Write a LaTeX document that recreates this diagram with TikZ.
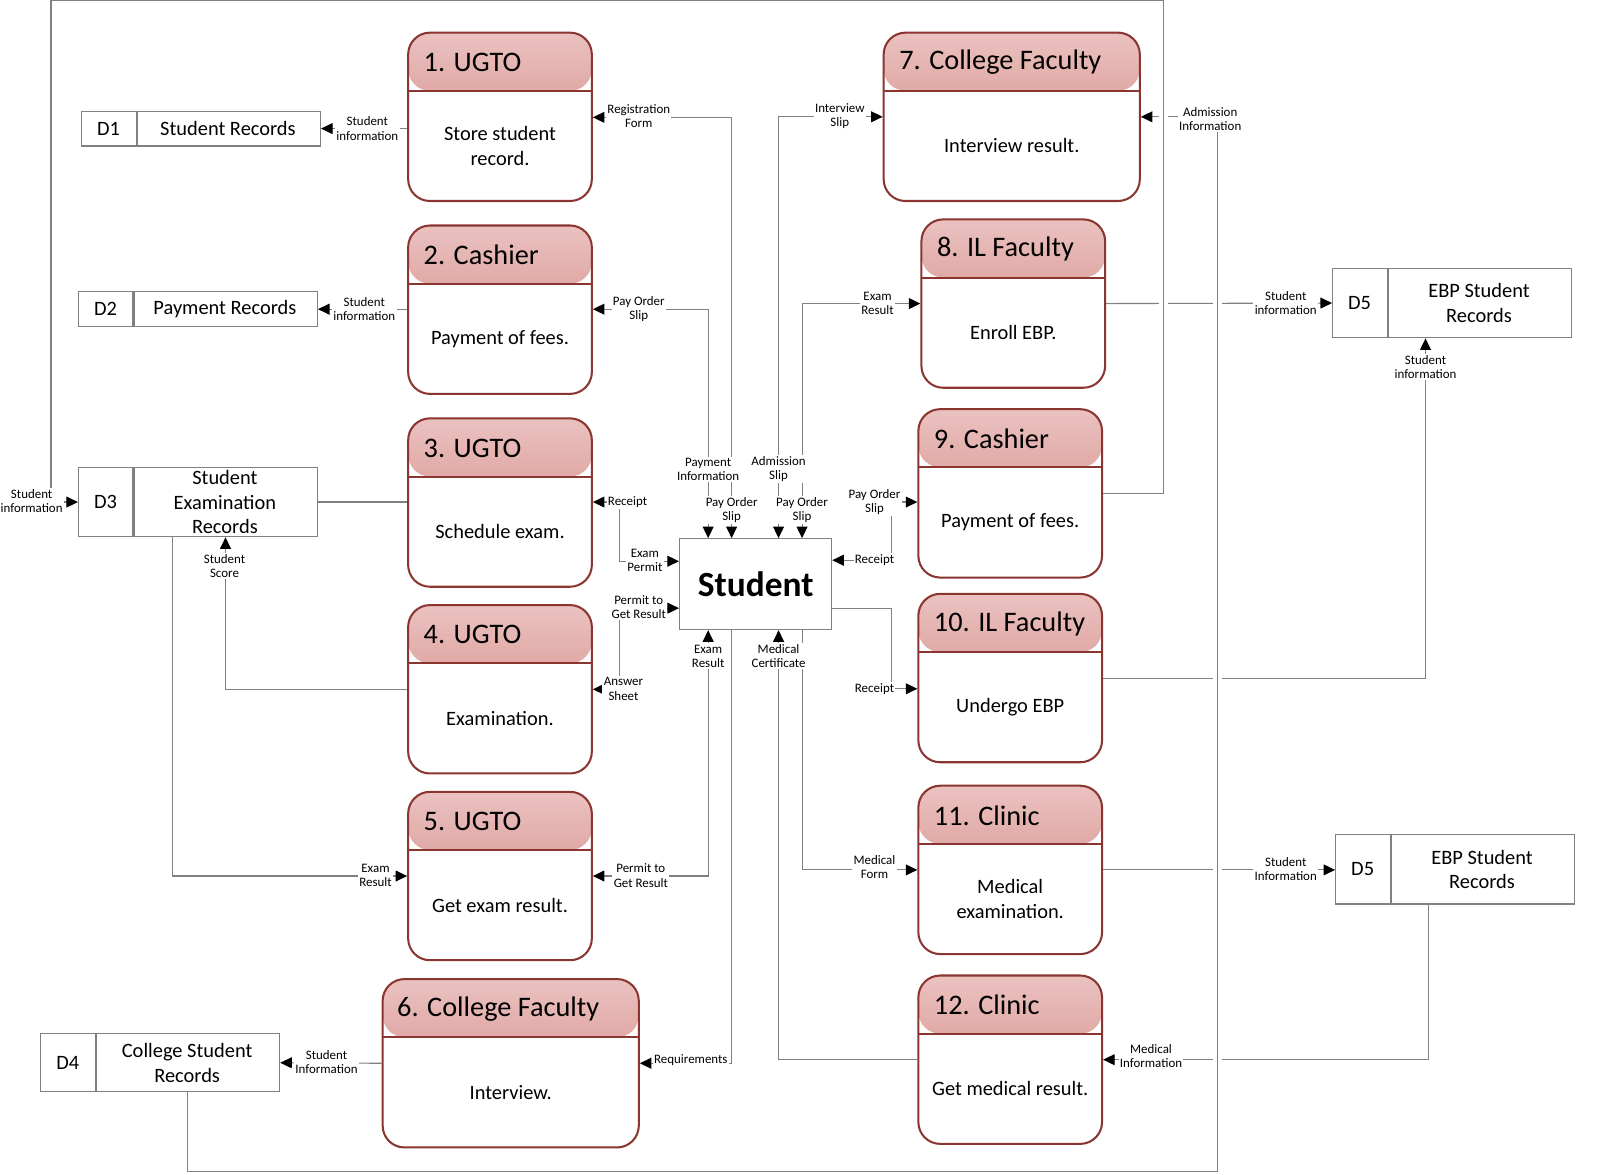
\documentclass[tikz,border=0pt]{standalone}
\usepackage{fontspec}
\setmainfont{Carlito}
\usetikzlibrary{arrows.meta,calc}
\definecolor{hdtop}{HTML}{EAC2C0}
\definecolor{hdbot}{HTML}{CF7B75}
\definecolor{pborder}{HTML}{8A3530}
\definecolor{lgray}{HTML}{808080}
\begin{document}
\begin{tikzpicture}[x=0.75pt,y=-0.75pt,
  >={Triangle[length=8.5pt,width=8pt,color=black]},
  proc/.style={draw=pborder, line width=1.5pt, rounded corners=16pt,
    minimum width=135pt, minimum height=123.75pt, inner sep=0pt, fill=white,
    path picture={
      \shade[top color=hdtop,bottom color=hdbot]
        (path picture bounding box.north west) rectangle
        ([yshift=-42.75pt]path picture bounding box.north east);
      \draw[pborder,line width=1.5pt]
        ([yshift=-42.75pt]path picture bounding box.north west) --
        ([yshift=-42.75pt]path picture bounding box.north east);}},
  wide/.style={minimum width=188.25pt},
  hdr/.style={anchor=west, inner sep=0pt, font=\fontsize{20.8}{24}\selectfont},
  body/.style={align=center, inner sep=0pt, font=\fontsize{15}{18}\selectfont},
  store/.style={draw=lgray, line width=0.9pt, minimum width=175.5pt,
    minimum height=25.5pt, inner sep=0pt, fill=white,
    path picture={
      \draw[lgray,line width=1.8pt]
        ([xshift=40.5pt]path picture bounding box.north west) --
        ([xshift=40.5pt]path picture bounding box.south west);}},
  stxt/.style={align=center, inner sep=0pt, font=\fontsize{15}{18}\selectfont},
  conn/.style={draw=lgray, line width=0.8pt},
  lab/.style={fill=white, inner sep=1pt, align=center,
    font=\fontsize{9.5}{10.5}\selectfont},
  hop/.style={conn, preaction={draw=white, line width=7pt}}
]
\useasboundingbox (0,0) rectangle (1568,1151);
\fill[white] (0,0) rectangle (1568,1151);

% ---------- process boxes ----------
\node[proc] (p1) at (490,114.5) {};
\node[proc] (p2) at (490,303.5) {};
\node[proc] (p3) at (490,492.5) {};
\node[proc] (p4) at (490,675.5) {};
\node[proc] (p5) at (490,858.5) {};
\node[proc,wide] (p6) at (500.5,1042) {};
\node[proc,wide] (p7) at (991.5,114.5) {};
\node[proc] (p8) at (993,297.5) {};
\node[proc] (p9) at (990,483.5) {};
\node[proc] (p10) at (990,664.5) {};
\node[proc] (p11) at (990,852.5) {};
\node[proc] (p12) at (990,1038.5) {};

\node[hdr] (h1) at ($(p1.north west)+(16,30)$) {1. UGTO};
\node[hdr] (h2) at ($(p2.north west)+(16,30)$) {2. Cashier};
\node[hdr] (h3) at ($(p3.north west)+(16,30)$) {3. UGTO};
\node[hdr] (h4) at ($(p4.north west)+(16,30)$) {4. UGTO};
\node[hdr] (h5) at ($(p5.north west)+(16,30)$) {5. UGTO};
\node[hdr] (h6) at ($(p6.north west)+(15,30)$) {6. College Faculty};
\node[hdr] (h7) at ($(p7.north west)+(16,30)$) {7. College Faculty};
\node[hdr] (h8) at ($(p8.north west)+(16,30)$) {8. IL Faculty};
\node[hdr] (h9) at ($(p9.north west)+(16,30)$) {9. Cashier};
\node[hdr] (h10) at ($(p10.north west)+(16,30)$) {10. IL Faculty};
\node[hdr] (h11) at ($(p11.north west)+(16,30)$) {11. Clinic};
\node[hdr] (h12) at ($(p12.north west)+(16,30)$) {12. Clinic};

\node[body] (b1) at ($(p1.center)+(0,28.5)$) {Store student\\record.};
\node[body] (b2) at ($(p2.center)+(0,28.5)$) {Payment of fees.};
\node[body] (b3) at ($(p3.center)+(0,28.5)$) {Schedule exam.};
\node[body] (b4) at ($(p4.center)+(0,28.5)$) {Examination.};
\node[body] (b5) at ($(p5.center)+(0,28.5)$) {Get exam result.};
\node[body] (b6) at ($(p6.center)+(0,28.5)$) {Interview.};
\node[body] (b7) at ($(p7.center)+(0,28.5)$) {Interview result.};
\node[body] (b8) at ($(p8.center)+(0,28.5)$) {Enroll EBP.};
\node[body] (b9) at ($(p9.center)+(0,28.5)$) {Payment of fees.};
\node[body] (b10) at ($(p10.center)+(0,28.5)$) {Undergo EBP};
\node[body] (b11) at ($(p11.center)+(0,28.5)$) {Medical\\examination.};
\node[body] (b12) at ($(p12.center)+(0,28.5)$) {Get medical result.};

% ---------- data stores ----------
\node[store] (d1) at (197,126) {};
\node[store] (d2) at (194,303) {};
\node[store, minimum height=51pt] (d3) at (194,492) {};
\node[store, minimum height=42.75pt] (d4) at (157,1041.5) {};
\node[store, minimum height=51pt] (d5a) at (1423,297) {};
\node[store, minimum height=51pt] (d5b) at (1426,852) {};

\node[stxt] (i1) at ($(d1.west)+(27,0)$) {D1};
\node[stxt] (n1) at ($(d1.west)+(144,0)$) {Student Records};
\node[stxt] (i2) at ($(d2.west)+(27,0)$) {D2};
\node[stxt] (n2) at ($(d2.west)+(144,0)$) {Payment Records};
\node[stxt] (i3) at ($(d3.west)+(27,0)$) {D3};
\node[stxt] (n3) at ($(d3.west)+(144,0)$) {Student\\Examination\\Records};
\node[stxt] (i4) at ($(d4.west)+(27,0)$) {D4};
\node[stxt] (n4) at ($(d4.west)+(144,0)$) {College Student\\Records};
\node[stxt] (i5) at ($(d5a.west)+(27,0)$) {D5};
\node[stxt] (n5) at ($(d5a.west)+(144,0)$) {EBP Student\\Records};
\node[stxt] (i6) at ($(d5b.west)+(27,0)$) {D5};
\node[stxt] (n6) at ($(d5b.west)+(144,0)$) {EBP Student\\Records};

% ---------- external entity ----------
\node[draw=lgray, line width=0.9pt, minimum width=111.75pt, minimum height=66.75pt,
  fill=white, font=\fontsize{26}{30}\selectfont\bfseries] (st) at (740.5,572.5) {Student};

% ---------- connectors ----------
\draw[conn,->] (p1.west |- d1.east) -- (d1.east);
\draw[conn,<->] (st.north -| 717,0) |- (p1.east |- 0,115);
\draw[conn,->] (p2.west |- d2.east) -- (d2.east);
\draw[conn,<->] (st.north -| 694,0) |- (p2.east |- d2.east);
\draw[conn] (d3.east) -- (p3.west |- d3.east);
\draw[conn,<->] (p3.east |- d3.east) -| (607,550) -- (st.west |- 0,550);
\draw[conn,<->] (p4.east) -| (607,596) -- (st.west |- 0,596);
\draw[conn,->] (p4.west) -| (d3.south -| 221,0);
\draw[conn,->] (d3.south -| 169,0) |- (p5.west);
\draw[conn,<->] (st.south -| 694,0) |- (p5.east);
\draw[conn,->] (st.south -| 717,0) |- (p6.east);
\draw[conn,->] (p6.west) -- (d4.east);
\draw[conn,<->] (st.north -| 763,0) |- (p7.west);
\draw[conn,->] (d4.south -| 184,0) |- (1193,1148) |- (p7.east);
\draw[conn,<->] (st.north -| 786,0) |- (p8.west);
\draw[conn,->] (p8.east) -- (d5a.west);
\draw[conn,<->] (st.east |- 0,549) -| (874,492) -- (p9.west |- 0,492);
\draw[conn,->] (p9.east) -| (1140,0.8) -| (50,492) -- (d3.west);
\draw[conn,->] (st.east |- 0,596) -| (874,675) -- (p10.west |- 0,675);
\draw[conn,->] (p10.east) -| (d5a.south -| 1397,0);
\draw[conn,->] (st.south -| 786,0) |- (p11.west);
\draw[conn,->] (p11.east) -- (d5b.west |- p11.east);
\draw[conn,->] (p12.west) -| (st.south -| 763,0);
\draw[conn,->] (d5b.south -| 1400,0) |- (p12.east);

% line hops where horizontals pass under the long verticals
\draw[hop] (1140,12) -- (1140,470);
\draw[hop] (1193,135) -- (1193,1138);

% ---------- labels ----------
\node[lab] (l1) at (360,126) {Student\\information};
\node[lab] (l2) at (626,114) {Registration\\Form};
\node[lab] (l3) at (357,303) {Student\\information};
\node[lab] (l4) at (626,303) {Pay Order\\Slip};
\node[lab] (l5) at (823,114) {Interview\\Slip};
\node[lab] (l6) at (1186,117) {Admission\\Information};
\node[lab] (l7) at (860,297) {Exam\\Result};
\node[lab] (l8) at (1260,297) {Student\\information};
\node[lab] (l9) at (1397,360) {Student\\information};
\node[lab] (l10) at (694,460) {Payment\\Information};
\node[lab] (l11) at (763,460) {Admission\\Slip};
\node[lab] (l12) at (717,500) {Pay Order\\Slip};
\node[lab] (l13) at (786,500) {Pay Order\\Slip};
\node[lab] (l14) at (615,492) {Receipt};
\node[lab] (l15) at (632,549) {Exam\\Permit};
\node[lab] (l16) at (857,492) {Pay Order\\Slip};
\node[lab] (l17) at (857,549) {Receipt};
\node[lab] (l18) at (31,491) {Student\\information};
\node[lab] (l19) at (220,555) {Student\\Score};
\node[lab] (l20) at (626,595) {Permit to\\Get Result};
\node[lab] (l21) at (694,643) {Exam\\Result};
\node[lab] (l22) at (763,643) {Medical\\Certificate};
\node[lab] (l23) at (611,675) {Answer\\Sheet};
\node[lab] (l24) at (857,675) {Receipt};
\node[lab] (l25) at (368,858) {Exam\\Result};
\node[lab] (l26) at (628,858) {Permit to\\Get Result};
\node[lab] (l27) at (857,850) {Medical\\Form};
\node[lab] (l28) at (1260,852) {Student\\Information};
\node[lab] (l29) at (320,1041) {Student\\Information};
\node[lab] (l30) at (677,1039) {Requirements};
\node[lab] (l31) at (1128,1035) {Medical\\Information};
\end{tikzpicture}
\end{document}
